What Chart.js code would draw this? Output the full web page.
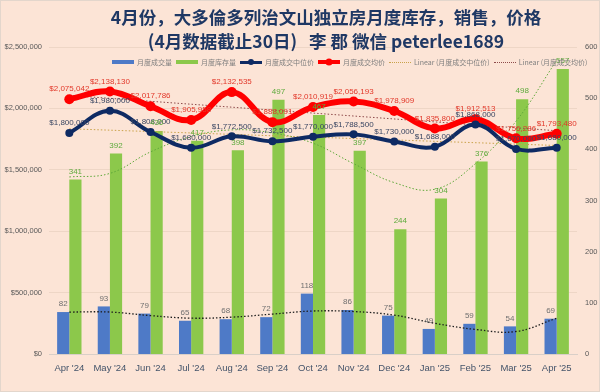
<!DOCTYPE html>
<html>
<head>
<meta charset="utf-8">
<script src="https://cdn.jsdelivr.net/npm/chart.js@4.4.1/dist/chart.umd.min.js"></script>
<style>
  html, body { margin:0; padding:0; background:#FCE4D6; }
  #wrap { position:relative; width:600px; height:392px; background:#FCE4D6; overflow:hidden; }
  #wrap canvas { position:absolute; left:0; top:0; }
  #title { position:absolute; left:326px; top:5px; transform:translateX(-50%); white-space:nowrap; text-align:center;
    font-family:"Noto Sans CJK SC", sans-serif; font-weight:700; font-size:17.5px; line-height:24px; color:#1F3864; }
  #legend { position:absolute; left:112px; top:57px; display:flex; align-items:center; gap:4px; white-space:nowrap;
    font-family:"Noto Sans CJK SC", sans-serif; font-size:7px; color:#7F7F7F; }
  .it { display:flex; align-items:center; gap:3px; }
  .sw { width:22px; height:4px; }
  .ln { position:relative; width:22px; height:10px; }
  .ln i { position:absolute; left:0; right:0; top:50%; }
  .ln b { position:absolute; left:50%; top:50%; border-radius:50%; transform:translate(-50%,-50%); }
  #frame { position:absolute; inset:0; border:1px solid #E3D6CC; pointer-events:none; }
</style>
</head>
<body>
<div id="wrap">
  <canvas id="c" width="600" height="392"></canvas>
  <div id="title">4月份，大多倫多列治文山独立房月度库存，销售，价格<br>(4月数据截止30日)&nbsp;&nbsp;&nbsp;李 郡 微信 peterlee1689</div>
  <div id="legend">
    <div class="it"><span class="sw" style="background:#4E7AC7"></span>月度成交量</div>
    <div class="it"><span class="sw" style="background:#8CC84B"></span>月度库存量</div>
    <div class="it"><span class="ln"><i style="height:3px;margin-top:-1.5px;background:#0E2A63"></i><b style="width:6px;height:6px;background:#0E2A63"></b></span>月度成交中位价</div>
    <div class="it"><span class="ln"><i style="height:4px;margin-top:-2px;background:#FF0000"></i><b style="width:7px;height:7px;background:#FF0000"></b></span>月度成交均价</div>
    <div class="it"><span class="ln"><i style="border-top:1px dotted #C9A24A"></i></span>Linear (月度成交中位价)</div>
    <div class="it"><span class="ln"><i style="border-top:1px dotted #8E4B4B"></i></span>Linear (月度成交均价)</div>
  </div>
  <div id="frame"></div>
</div>
<script>
const months = ["Apr '24","May '24","Jun '24","Jul '24","Aug '24","Sep '24","Oct '24","Nov '24","Dec '24","Jan '25","Feb '25","Mar '25","Apr '25"];
const salesCount = [82, 93, 79, 65, 68, 72, 118, 86, 75, 49, 59, 54, 69];
const inventory = [341, 392, 436, 417, 398, 497, 467, 397, 244, 304, 376, 498, 557];
const medianPrice = [1800000, 1980000, 1808000, 1680000, 1772500, 1732500, 1770000, 1788500, 1730000, 1688000, 1868000, 1670000, 1680000];
const avgPrice = [2075042, 2138130, 2017786, 1905958, 2132535, 1888091, 2010919, 2056193, 1978909, 1835800, 1912513, 1756286, 1793480];
// trend lines
const inventoryTrend = [346, 353, 395, 425, 438, 432, 412, 372, 335, 322, 372, 455, 574];
const salesTrend = [82, 82, 75, 70, 72, 78, 84, 83, 76, 60, 48, 44, 70];
const medianTrend = [1834000, null, null, null, null, null, null, null, null, null, null, null, 1698000];
const avgTrend = [2106000, null, null, null, null, null, null, null, null, null, null, null, 1818000];
const priceTicks = [0, 500000, 1000000, 1500000, 2000000, 2500000];
const countTicks = [0, 100, 200, 300, 400, 500, 600];

const money = v => '$' + Math.round(v).toLocaleString('en-US');

// value labels above bars and points
const valueLabels = {
  id: 'valueLabels',
  afterDatasetsDraw(chart) {
    const ctx = chart.ctx;
    ctx.save();
    ctx.font = '8px "Liberation Sans", sans-serif';
    ctx.textAlign = 'center';
    ctx.textBaseline = 'middle';
    chart.data.datasets.forEach((ds, i) => {
      if (!ds.labelColor) return;
      const meta = chart.getDatasetMeta(i);
      meta.data.forEach((el, j) => {
        const v = ds.data[j];
        if (v == null) return;
        ctx.fillStyle = ds.labelColor;
        ctx.fillText(ds.money ? money(v) : String(v), el.x, el.y - ds.labelOff);
      });
    });
    ctx.restore();
  }
};

Chart.defaults.font.family = '"Liberation Sans", sans-serif';

new Chart(document.getElementById('c'), {
  data: {
    labels: months,
    datasets: [
      { type:'line', label:'月度成交中位价', data:medianPrice, yAxisID:'y', order:0,
        borderColor:'#0E2A63', backgroundColor:'#0E2A63', borderWidth:4, pointRadius:4, pointBorderWidth:0,
        tension:0.4, labelColor:'#3B4763', labelOff:10, money:true },
      { type:'line', label:'月度成交均价', data:avgPrice, yAxisID:'y', order:1,
        borderColor:'#FF0000', backgroundColor:'#FF0000', borderWidth:6, pointRadius:5, pointBorderWidth:0,
        tension:0.4, labelColor:'#E2382A', labelOff:10, money:true },
      { type:'line', label:'Linear (月度成交中位价)', data:medianTrend, yAxisID:'y', order:2, spanGaps:true,
        borderColor:'#C9A24A', borderWidth:1, borderDash:[1.5,2], pointRadius:0 },
      { type:'line', label:'Linear (月度成交均价)', data:avgTrend, yAxisID:'y', order:3, spanGaps:true,
        borderColor:'#8E4B4B', borderWidth:1, borderDash:[1.5,2], pointRadius:0 },
      { type:'line', label:'库存趋势', data:inventoryTrend, yAxisID:'y1', order:4,
        borderColor:'#5FA83A', borderWidth:1, borderDash:[1.5,2], pointRadius:0, tension:0.4 },
      { type:'line', label:'成交趋势', data:salesTrend, yAxisID:'y1', order:5,
        borderColor:'#1E1E1E', borderWidth:1.3, borderDash:[1.5,2], pointRadius:0, tension:0.4 },
      { type:'bar', label:'月度成交量', data:salesCount, yAxisID:'y1', order:10,
        backgroundColor:'#4E7AC7', barPercentage:1, categoryPercentage:0.6,
        labelColor:'#6F6F6F', labelOff:8 },
      { type:'bar', label:'月度库存量', data:inventory, yAxisID:'y1', order:11,
        backgroundColor:'#8CC84B', barPercentage:1, categoryPercentage:0.6,
        labelColor:'#5DAA3C', labelOff:8 }
    ]
  },
  options: {
    responsive:false,
    animation:false,
    layout:{ padding:{ top:47, left:0, right:0, bottom:0 } },
    plugins:{ legend:{ display:false }, title:{ display:false }, tooltip:{ enabled:false } },
    scales:{
      x:{
        grid:{ display:false, drawTicks:false },
        border:{ display:true, color:'#D9CFC8', width:1 },
        ticks:{ color:'#44546A', font:{ size:9.5 }, padding:9, maxRotation:0, autoSkip:false },
        afterFit(s){ s.height = 38; }
      },
      y:{
        position:'left', min:0, max:2500000,
        afterBuildTicks(s){ s.ticks = priceTicks.map(v => ({ value:v })); },
        grid:{ color:'#EED6C6', lineWidth:1, drawTicks:false },
        border:{ display:false },
        ticks:{ color:'#595959', font:{ size:7.5 }, padding:7, callback:v => money(v) },
        afterFit(s){ s.width = 49; }
      },
      y1:{
        position:'right', min:0, max:600,
        afterBuildTicks(s){ s.ticks = countTicks.map(v => ({ value:v })); },
        grid:{ display:false, drawTicks:false },
        border:{ display:false },
        ticks:{ color:'#595959', font:{ size:7.5 }, padding:8 },
        afterFit(s){ s.width = 23; }
      }
    }
  },
  plugins:[valueLabels]
});
</script>
</body>
</html>
